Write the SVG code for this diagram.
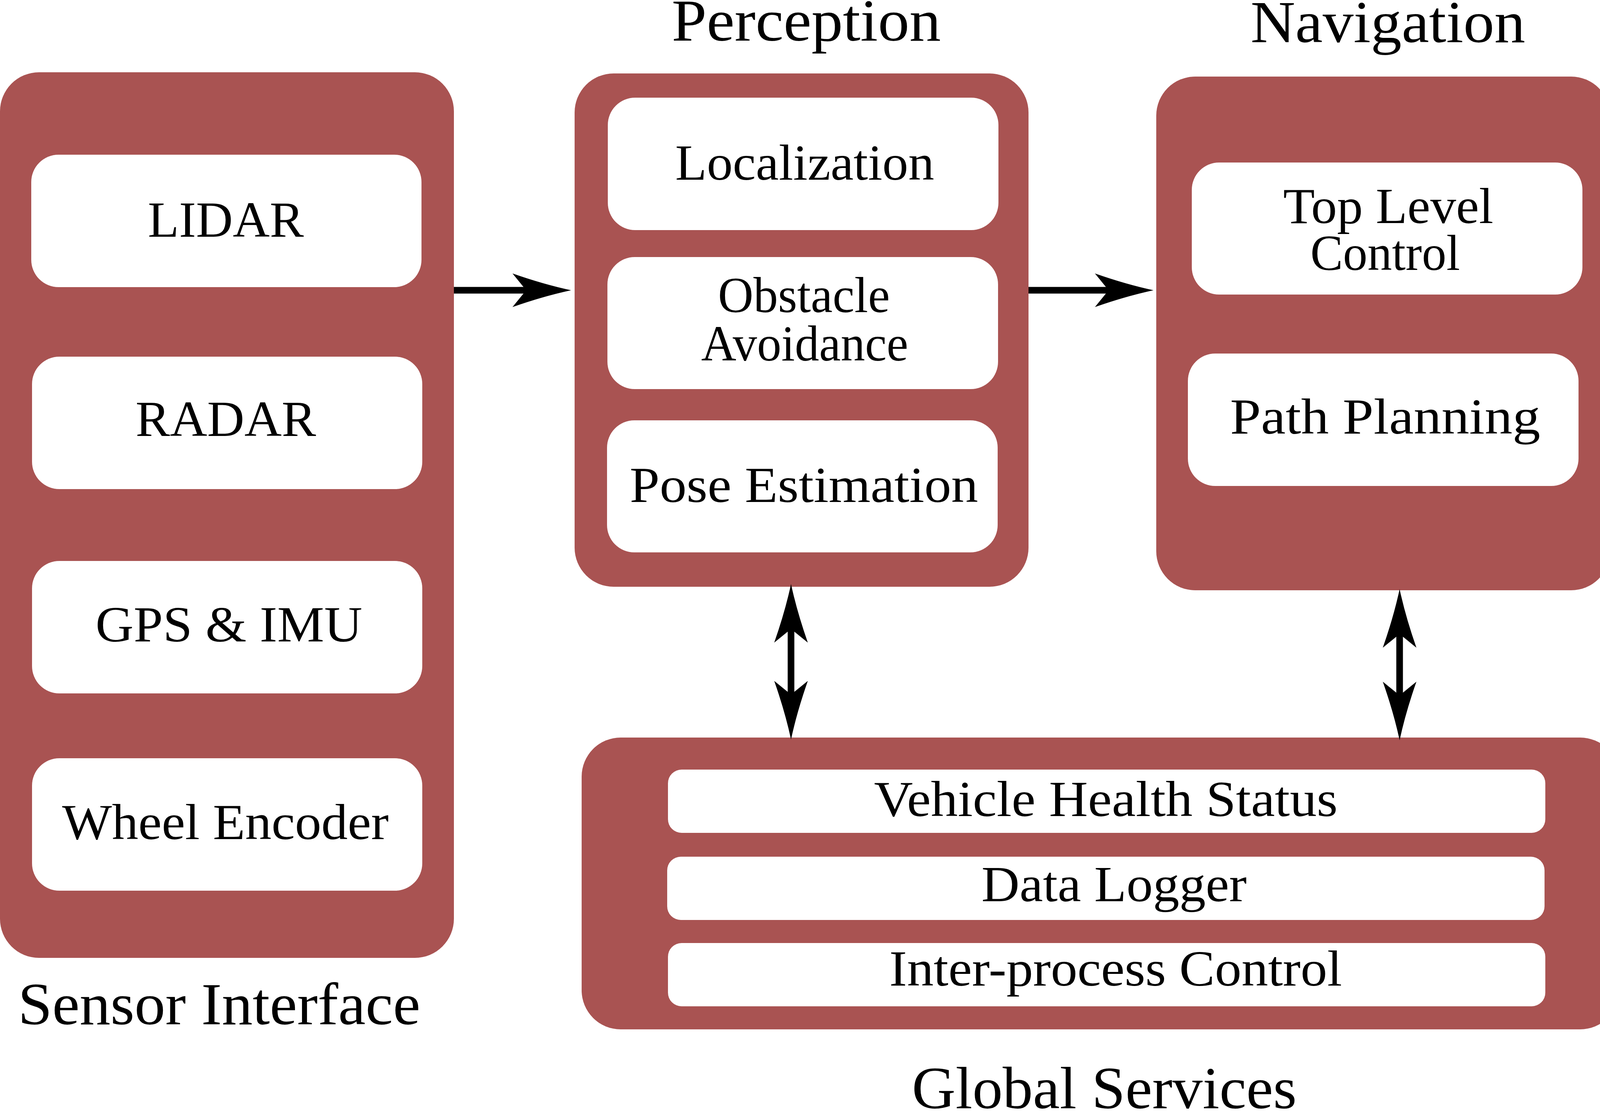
<svg xmlns="http://www.w3.org/2000/svg" xmlns:xlink="http://www.w3.org/1999/xlink" width="5611" height="2844" viewBox="0 0 5611 2844">
<style>
.outer{fill:#a95352}
.inner{fill:#ffffff}
text{font-family:"Liberation Serif","Times New Roman",serif;fill:#000;text-anchor:middle}
.lbl{font-size:130px}
.ttl{font-size:152px}
.conn{stroke:#000;stroke-width:17;fill:none;marker-end:url(#ah)}
.bi{marker-start:url(#ah)}
</style>
<defs>
<marker id="ah" viewBox="0 0 150 86" markerUnits="userSpaceOnUse" markerWidth="150" markerHeight="86" refX="35" refY="43" orient="auto-start-reverse" overflow="visible">
<path d="M150,43 Q80,28 0,0 L35,43 L0,86 Q80,58 150,43 Z" fill="#000"/>
</marker>
</defs>
<rect width="5611" height="2844" fill="#fff"/>

<g id="sensor-interface">
<rect class="outer" x="0" y="185" width="1162" height="2267" rx="100"/>
<rect class="inner" x="80" y="396" width="999" height="339" rx="70"/>
<rect class="inner" x="82" y="913" width="999" height="339" rx="70"/>
<rect class="inner" x="82" y="1436" width="999" height="339" rx="70"/>
<rect class="inner" x="82" y="1941" width="999" height="339" rx="70"/>
<text class="lbl" x="578" y="606" textLength="399" lengthAdjust="spacingAndGlyphs">LIDAR</text>
<text class="lbl" x="578" y="1116" textLength="462" lengthAdjust="spacingAndGlyphs">RADAR</text>
<text class="lbl" x="586" y="1642" textLength="683" lengthAdjust="spacingAndGlyphs">GPS &amp; IMU</text>
<text class="lbl" x="577" y="2148" textLength="836" lengthAdjust="spacingAndGlyphs">Wheel Encoder</text>
<text class="ttl" x="561" y="2622" textLength="1030" lengthAdjust="spacingAndGlyphs">Sensor Interface</text>
</g>

<g id="perception">
<rect class="outer" x="1471" y="188" width="1162" height="1314" rx="100"/>
<rect class="inner" x="1556" y="250" width="1000" height="339" rx="70"/>
<rect class="inner" x="1555" y="658" width="1000" height="338" rx="70"/>
<rect class="inner" x="1554" y="1076" width="1000" height="338" rx="70"/>
<text class="lbl" x="2060" y="460" textLength="663" lengthAdjust="spacingAndGlyphs">Localization</text>
<text class="lbl" x="2058" y="799" textLength="440" lengthAdjust="spacingAndGlyphs">Obstacle</text>
<text class="lbl" x="2060" y="923" textLength="530" lengthAdjust="spacingAndGlyphs">Avoidance</text>
<text class="lbl" x="2058" y="1285" textLength="892" lengthAdjust="spacingAndGlyphs">Pose Estimation</text>
<text class="ttl" x="2064" y="104" textLength="689" lengthAdjust="spacingAndGlyphs">Perception</text>
</g>

<g id="navigation">
<rect class="outer" x="2960" y="196" width="1162" height="1315" rx="100"/>
<rect class="inner" x="3051" y="416" width="1000" height="338" rx="70"/>
<rect class="inner" x="3041" y="905" width="1000" height="339" rx="70"/>
<text class="lbl" x="3554" y="571" textLength="538" lengthAdjust="spacingAndGlyphs">Top Level</text>
<text class="lbl" x="3546" y="691" textLength="383" lengthAdjust="spacingAndGlyphs">Control</text>
<text class="lbl" x="3546" y="1110" textLength="794" lengthAdjust="spacingAndGlyphs">Path Planning</text>
<text class="ttl" x="3553" y="108" textLength="703" lengthAdjust="spacingAndGlyphs">Navigation</text>
</g>

<g id="vehicle-interface">
<rect class="outer" x="4445" y="215" width="1162" height="972" rx="100"/>
<rect class="inner" x="4522" y="313" width="1000" height="339" rx="70"/>
<rect class="inner" x="4525" y="742" width="1000" height="339" rx="70"/>
<text class="lbl" x="5020" y="505" textLength="900" lengthAdjust="spacingAndGlyphs">Steering Control</text>
<text class="lbl" x="5023" y="887" textLength="786" lengthAdjust="spacingAndGlyphs">Throttle/Brake</text>
<text class="lbl" x="5026" y="1020" textLength="383" lengthAdjust="spacingAndGlyphs">Control</text>
<text class="ttl" x="5008" y="120" textLength="1075" lengthAdjust="spacingAndGlyphs">Vehicle Interface</text>
</g>

<g id="user-interface">
<rect class="outer" x="4447" y="1540" width="1162" height="941" rx="100"/>
<rect class="inner" x="4530" y="1629" width="999" height="338" rx="70"/>
<rect class="inner" x="4536" y="2049" width="999" height="339" rx="70"/>
<text class="lbl" x="5033" y="1828" textLength="876" lengthAdjust="spacingAndGlyphs">Wireless E-Stop</text>
<text class="lbl" x="5036" y="2262" textLength="820" lengthAdjust="spacingAndGlyphs">Visualizer GUI</text>
<text class="ttl" x="5030" y="2652" textLength="906" lengthAdjust="spacingAndGlyphs">User Interface</text>
</g>

<g id="global-services">
<rect class="outer" x="1489" y="1888" width="2656" height="747" rx="100"/>
<rect class="inner" x="1710" y="1970" width="2246" height="162" rx="35"/>
<rect class="inner" x="1708" y="2193" width="2246" height="162" rx="35"/>
<rect class="inner" x="1710" y="2414" width="2246" height="162" rx="35"/>
<text class="lbl" x="2831" y="2089" textLength="1187" lengthAdjust="spacingAndGlyphs">Vehicle Health Status</text>
<text class="lbl" x="2852" y="2307" textLength="679" lengthAdjust="spacingAndGlyphs">Data Logger</text>
<text class="lbl" x="2856" y="2523" textLength="1159" lengthAdjust="spacingAndGlyphs">Inter-process Control</text>
<text class="ttl" x="2827" y="2837" textLength="985" lengthAdjust="spacingAndGlyphs">Global Services</text>
</g>

<g id="connectors">
<line class="conn" x1="1162" y1="743" x2="1347" y2="743"/>
<line class="conn" x1="2633" y1="743" x2="2838" y2="743"/>
<line class="conn" x1="4122" y1="733" x2="4324" y2="733"/>
<line class="conn bi" x1="2025" y1="1610" x2="2025" y2="1778"/>
<line class="conn bi" x1="3583" y1="1623" x2="3583" y2="1780"/>
<line class="conn bi" x1="5045" y1="1302" x2="5045" y2="1436"/>
<line class="conn bi" x1="4258" y1="2194" x2="4343" y2="2194"/>
</g>
</svg>
